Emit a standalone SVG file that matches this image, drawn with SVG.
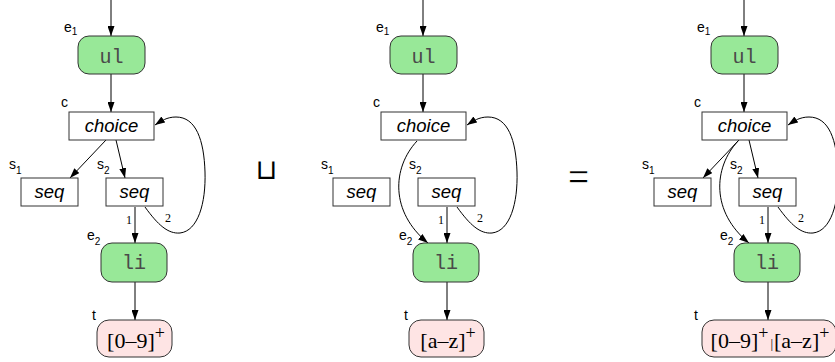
<svg xmlns="http://www.w3.org/2000/svg" width="835" height="362" viewBox="0 0 835 362">
  <defs>
    <marker id="arrow" viewBox="0 0 10 7" refX="10" refY="3.5" markerWidth="10" markerHeight="7" markerUnits="userSpaceOnUse" orient="auto">
      <path d="M0,0 L10,3.5 L0,7 z" fill="#000"/>
    </marker>
  </defs>
  <style>
    .connectors line, .connectors path { fill: none; stroke: #000; stroke-width: 1; marker-end: url(#arrow); }
    .elem rect { fill: #98e898; stroke: #333; stroke-width: 1; }
    .op rect { fill: #fff; stroke: #333; stroke-width: 1; }
    .term rect { fill: #fee4e4; stroke: #333; stroke-width: 1; }
    .lbl { font-family: "Liberation Sans", Arial, sans-serif; font-size: 14px; fill: #000; }
    .sub { font-size: 10px; }
    .opname { font-family: "Liberation Sans", Arial, sans-serif; font-style: italic; font-size: 18.5px; text-anchor: middle; fill: #000; }
    .tag { font-family: "Liberation Mono", "Courier New", monospace; font-size: 20px; text-anchor: middle; fill: #4a4a4a; }
    .re { font-family: "Liberation Serif", "Times New Roman", serif; font-size: 22px; text-anchor: middle; fill: #000; }
    .sup { font-size: 18px; }
    .num { font-family: "Liberation Serif", "Times New Roman", serif; font-size: 12px; fill: #000; }
    .sym { font-family: "DejaVu Sans", sans-serif; text-anchor: middle; fill: #000; }
  </style>

  <!-- left operand: ul > choice(seq, seq) > li, text [0-9]+ -->
  <g id="left">
    <g id="left-edges" class="connectors">
      <line x1="111" y1="0" x2="111" y2="36"/>
      <line x1="111" y1="74" x2="111" y2="112"/>
      <line x1="106" y1="140" x2="70" y2="178"/>
      <line x1="116" y1="140" x2="125" y2="178"/>
      <line x1="135" y1="207" x2="135" y2="243"/>
      <path d="M145,207 C158,225 168,234 180,233 C198,231 206,203 205,172 C204,140 196,117 176,117 C167,117 161,121 155,125"/>
      <line x1="135" y1="282" x2="135" y2="320"/>
      <text class="num" x="126" y="224">1</text>
      <text class="num" x="165" y="222">2</text>
    </g>
    <g id="left-e1" class="elem">
      <rect x="78" y="36" width="67" height="38" rx="11"/>
      <text class="tag" x="111.5" y="63">ul</text>
      <text class="lbl" x="64" y="31.5">e<tspan class="sub" dy="3.5">1</tspan></text>
    </g>
    <g id="left-c" class="op">
      <rect x="69" y="112" width="85" height="28"/>
      <text class="opname" x="111.5" y="132">choice</text>
      <text class="lbl" x="61" y="107">c</text>
    </g>
    <g id="left-s1" class="op">
      <rect x="21" y="178" width="57" height="28"/>
      <text class="opname" x="49.5" y="198">seq</text>
      <text class="lbl" x="9" y="169">s<tspan class="sub" dy="5">1</tspan></text>
    </g>
    <g id="left-s2" class="op">
      <rect x="106" y="178" width="57" height="28"/>
      <text class="opname" x="134.5" y="198">seq</text>
      <text class="lbl" x="97" y="169">s<tspan class="sub" dy="5">2</tspan></text>
    </g>
    <g id="left-e2" class="elem">
      <rect x="101" y="243" width="66" height="39" rx="11"/>
      <text class="tag" x="134" y="269">li</text>
      <text class="lbl" x="87" y="240">e<tspan class="sub" dy="5">2</tspan></text>
    </g>
    <g id="left-t" class="term">
      <rect x="97" y="320" width="75" height="37" rx="12"/>
      <text class="re" x="136" y="348">[0–9]<tspan class="sup" dy="-9">+</tspan></text>
      <text class="lbl" x="92" y="320">t</text>
    </g>
  </g>

  <text id="join" class="sym" x="266.5" y="178.5" font-size="28">⊔</text>

  <!-- right operand: choice reaches li directly, text [a-z]+ -->
  <g id="middle" transform="translate(312,0)">
    <g id="middle-edges" class="connectors">
      <line x1="111" y1="0" x2="111" y2="36"/>
      <line x1="111" y1="74" x2="111" y2="112"/>
      <path d="M105,141 C80,168 78,212 116,243"/>
      <line x1="135" y1="207" x2="135" y2="243"/>
      <path d="M145,207 C158,225 168,234 180,233 C198,231 206,203 205,172 C204,140 196,117 176,117 C167,117 161,121 155,125"/>
      <line x1="135" y1="282" x2="135" y2="320"/>
      <text class="num" x="126" y="224">1</text>
      <text class="num" x="165" y="222">2</text>
    </g>
    <g id="middle-e1" class="elem">
      <rect x="78" y="36" width="67" height="38" rx="11"/>
      <text class="tag" x="111.5" y="63">ul</text>
      <text class="lbl" x="64" y="31.5">e<tspan class="sub" dy="3.5">1</tspan></text>
    </g>
    <g id="middle-c" class="op">
      <rect x="69" y="112" width="85" height="28"/>
      <text class="opname" x="111.5" y="132">choice</text>
      <text class="lbl" x="61" y="107">c</text>
    </g>
    <g id="middle-s1" class="op">
      <rect x="21" y="178" width="57" height="28"/>
      <text class="opname" x="49.5" y="198">seq</text>
      <text class="lbl" x="9" y="169">s<tspan class="sub" dy="5">1</tspan></text>
    </g>
    <g id="middle-s2" class="op">
      <rect x="106" y="178" width="57" height="28"/>
      <text class="opname" x="134.5" y="198">seq</text>
      <text class="lbl" x="97" y="169">s<tspan class="sub" dy="5">2</tspan></text>
    </g>
    <g id="middle-e2" class="elem">
      <rect x="101" y="243" width="66" height="39" rx="11"/>
      <text class="tag" x="134" y="269">li</text>
      <text class="lbl" x="87" y="240">e<tspan class="sub" dy="5">2</tspan></text>
    </g>
    <g id="middle-t" class="term">
      <rect x="97" y="320" width="75" height="37" rx="12"/>
      <text class="re" x="136" y="348">[a–z]<tspan class="sup" dy="-9">+</tspan></text>
      <text class="lbl" x="92" y="320">t</text>
    </g>
  </g>

  <!-- thin equals sign: glyph stretched vertically, edges trimmed by a white outline -->
  <text id="equals" class="sym" transform="translate(578.5,190.5) scale(1.05,1.6)" x="0" y="0" font-size="28" stroke="#fff" stroke-width="1">=</text>

  <!-- result: union of both graphs -->
  <g id="result" transform="translate(633,0)">
    <g id="result-edges" class="connectors">
      <line x1="111" y1="0" x2="111" y2="36"/>
      <line x1="111" y1="74" x2="111" y2="112"/>
      <line x1="106" y1="140" x2="70" y2="178"/>
      <line x1="116" y1="140" x2="125" y2="178"/>
      <path d="M105,141 C80,168 78,212 116,243"/>
      <line x1="135" y1="207" x2="135" y2="243"/>
      <path d="M145,207 C158,225 168,234 180,233 C198,231 206,203 205,172 C204,140 196,117 176,117 C167,117 161,121 155,125"/>
      <line x1="135" y1="282" x2="135" y2="320"/>
      <text class="num" x="126" y="224">1</text>
      <text class="num" x="165" y="222">2</text>
    </g>
    <g id="result-e1" class="elem">
      <rect x="78" y="36" width="67" height="38" rx="11"/>
      <text class="tag" x="111.5" y="63">ul</text>
      <text class="lbl" x="64" y="31.5">e<tspan class="sub" dy="3.5">1</tspan></text>
    </g>
    <g id="result-c" class="op">
      <rect x="69" y="112" width="85" height="28"/>
      <text class="opname" x="111.5" y="132">choice</text>
      <text class="lbl" x="61" y="107">c</text>
    </g>
    <g id="result-s1" class="op">
      <rect x="21" y="178" width="57" height="28"/>
      <text class="opname" x="49.5" y="198">seq</text>
      <text class="lbl" x="9" y="169">s<tspan class="sub" dy="5">1</tspan></text>
    </g>
    <g id="result-s2" class="op">
      <rect x="106" y="178" width="57" height="28"/>
      <text class="opname" x="134.5" y="198">seq</text>
      <text class="lbl" x="97" y="169">s<tspan class="sub" dy="5">2</tspan></text>
    </g>
    <g id="result-e2" class="elem">
      <rect x="101" y="243" width="66" height="39" rx="11"/>
      <text class="tag" x="134" y="269">li</text>
      <text class="lbl" x="87" y="240">e<tspan class="sub" dy="5">2</tspan></text>
    </g>
    <g id="result-t" class="term">
      <rect x="69" y="320" width="134" height="37" rx="12"/>
      <text class="re" x="137" y="348">[0–9]<tspan class="sup" dy="-9">+</tspan><tspan font-size="13" dy="9" dx="2">|</tspan><tspan dx="1">[a–z]</tspan><tspan class="sup" dy="-9">+</tspan></text>
      <text class="lbl" x="61" y="320">t</text>
    </g>
  </g>
</svg>
